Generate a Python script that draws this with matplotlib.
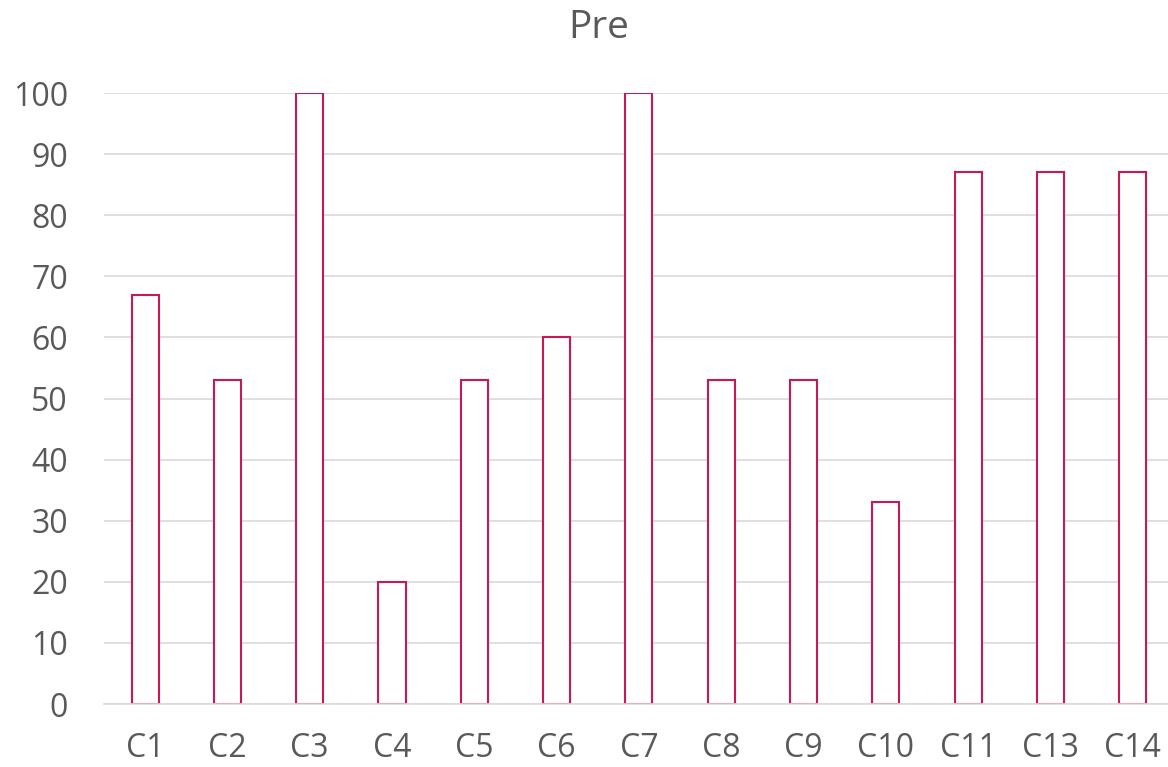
import matplotlib.pyplot as plt

categories = ['C1', 'C2', 'C3', 'C4', 'C5', 'C6', 'C7', 'C8', 'C9', 'C10', 'C11', 'C13', 'C14']
pre = [67, 53, 100, 20, 53, 60, 100, 53, 53, 33, 87, 87, 87]

plt.rcParams['font.family'] = ['Open Sans', 'DejaVu Sans']

fig = plt.figure(figsize=(11.68, 7.67), dpi=100)
ax = fig.add_axes([0.089, 0.0821, 0.916, 0.7966])

x = range(len(categories))
ax.bar(x, pre, width=0.33, color='white', edgecolor='#C8185A', linewidth=1.5, zorder=3)

ax.set_xlim(-0.5, len(categories) - 0.5)
ax.set_ylim(0, 100)
ax.set_yticks(range(0, 101, 10))
ax.set_xticks(list(x))
ax.set_xticklabels(categories)
ax.grid(axis='y', color='#D9D9D9', linewidth=1.2, zorder=0)
ax.tick_params(axis='both', length=0, labelsize=23, colors='#595959')
ax.tick_params(axis='x', pad=20)
ax.tick_params(axis='y', pad=26)
for s in ['top', 'right', 'left']:
    ax.spines[s].set_visible(False)
ax.spines['bottom'].set_color('#D9D9D9')
ax.spines['bottom'].set_linewidth(1.2)
ax.spines['bottom'].set_zorder(4)

fig.text(0.513, 0.963, 'Pre', ha='center', va='center', fontsize=28, color='#595959')

fig.savefig('out.png', dpi=100)
